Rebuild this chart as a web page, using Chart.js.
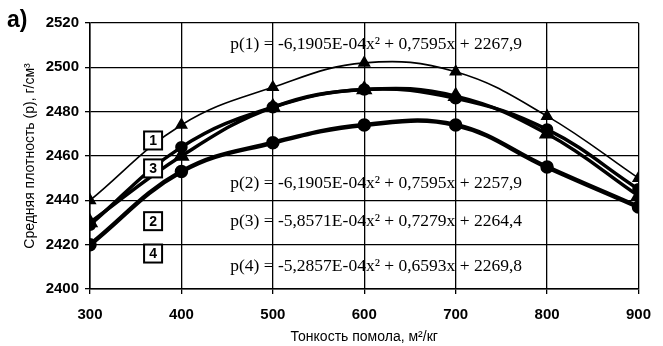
<!DOCTYPE html>
<html lang="ru">
<head>
    <meta charset="UTF-8">
    <title>Средняя плотность</title>
    <script src="https://cdn.jsdelivr.net/npm/chart.js"></script>
    <style>
        html, body { margin: 0; padding: 0; background: #fff; }
        .wrap { width: 663px; height: 346px; position: relative; }
    </style>
</head>
<body>
    <div class="wrap"><canvas id="chart"></canvas></div>

    <script>
        // данные
        const fineness = [300, 400, 500, 600, 700, 800, 900];
        const density1 = [2440, 2474, 2491, 2502, 2498, 2478, 2450];
        const density2 = [2430, 2460, 2482, 2490, 2487, 2470, 2442];
        const density3 = [2429, 2464, 2482, 2490, 2486, 2472, 2445];
        const density4 = [2420, 2453, 2466, 2474, 2474, 2455, 2437];

        const equations = [
            'p(1) = -6,1905E-04x\u00B2 + 0,7595x + 2267,9',
            'p(2) = -6,1905E-04x\u00B2 + 0,7595x + 2257,9',
            'p(3) = -5,8571E-04x\u00B2 + 0,7279x + 2264,4',
            'p(4) = -5,2857E-04x\u00B2 + 0,6593x + 2269,8'
        ];
        const equationY = [2510.5, 2447.6, 2430.6, 2410];
        const curveLabels = ['1', '3', '2', '4'];
        const curveLabelY = [2467, 2454.4, 2430.6, 2416];

        const toPoints = arr => arr.map((v, i) => ({ x: fineness[i], y: v }));

        // подписи на графике
        const annotations = {
            id: 'annotations',
            afterDraw(chart) {
                const ctx = chart.ctx;
                const xs = chart.scales.x, ys = chart.scales.y;
                ctx.save();
                ctx.fillStyle = '#000';

                ctx.font = 'bold 23px "Liberation Sans"';
                ctx.textAlign = 'left';
                ctx.textBaseline = 'middle';
                ctx.fillText('a)', 7, 21);

                ctx.font = '17.5px "Liberation Serif"';
                ctx.textAlign = 'center';
                equations.forEach((t, i) => {
                    ctx.fillText(t, xs.getPixelForValue(613), ys.getPixelForValue(equationY[i]));
                });

                ctx.font = 'bold 14px "Liberation Sans"';
                curveLabels.forEach((t, i) => {
                    const cx = xs.getPixelForValue(369);
                    const cy = ys.getPixelForValue(curveLabelY[i]);
                    ctx.fillStyle = '#fff';
                    ctx.fillRect(cx - 9, cy - 9, 18, 18);
                    ctx.lineWidth = 2;
                    ctx.strokeStyle = '#000';
                    ctx.strokeRect(cx - 9, cy - 9, 18, 18);
                    ctx.fillStyle = '#000';
                    ctx.fillText(t, cx, cy + 1);
                });
                ctx.restore();
            }
        };

        const lineDefaults = {
            borderColor: '#000',
            backgroundColor: '#000',
            tension: 0.4
        };

        const config = {
            type: 'line',
            data: {
                datasets: [
                    Object.assign({ label: '1', data: toPoints(density1), borderWidth: 1.6, pointStyle: 'triangle', pointRadius: 6 }, lineDefaults),
                    Object.assign({ label: '2', data: toPoints(density2), borderWidth: 3.5, pointStyle: 'triangle', pointRadius: 6 }, lineDefaults),
                    Object.assign({ label: '3', data: toPoints(density3), borderWidth: 3.5, pointStyle: 'circle', pointRadius: 4.5 }, lineDefaults),
                    Object.assign({ label: '4', data: toPoints(density4), borderWidth: 4.5, pointStyle: 'circle', pointRadius: 4.5 }, lineDefaults)
                ]
            },
            options: {
                responsive: true,
                maintainAspectRatio: false,
                animation: false,
                layout: { padding: { top: 23, right: 16, left: 0, bottom: 0 } },
                plugins: {
                    legend: { display: false },
                    tooltip: { enabled: false }
                },
                scales: {
                    x: {
                        type: 'linear',
                        min: 300,
                        max: 900,
                        afterFit(scale) { scale.height = 57; },
                        ticks: {
                            stepSize: 100,
                            color: '#000',
                            padding: 12,
                            callback: v => String(v),
                            font: { family: '"Liberation Sans"', size: 15, weight: 'bold' }
                        },
                        grid: { color: '#000', lineWidth: 1.3, tickLength: 5 },
                        border: { color: '#000', width: 1.5 },
                        title: {
                            display: true,
                            text: 'Тонкость помола, м\u00B2/кг',
                            color: '#000',
                            padding: { top: 0, bottom: 0 },
                            font: { family: '"Liberation Sans"', size: 14 }
                        }
                    },
                    y: {
                        min: 2400,
                        max: 2520,
                        afterFit(scale) { scale.width = 90; },
                        ticks: {
                            stepSize: 20,
                            color: '#000',
                            padding: 6,
                            callback: v => String(v),
                            font: { family: '"Liberation Sans"', size: 15, weight: 'bold' }
                        },
                        grid: { color: '#000', lineWidth: 1.3, tickLength: 5 },
                        border: { color: '#000', width: 1.5 },
                        title: {
                            display: true,
                            text: 'Средняя плотность (р), г/см\u00B3',
                            color: '#000',
                            padding: { top: 22, bottom: 0 },
                            font: { family: '"Liberation Sans"', size: 14 }
                        }
                    }
                }
            },
            plugins: [annotations]
        };

        window.onload = function () {
            new Chart(document.getElementById('chart').getContext('2d'), config);
        };
    </script>
</body>
</html>
